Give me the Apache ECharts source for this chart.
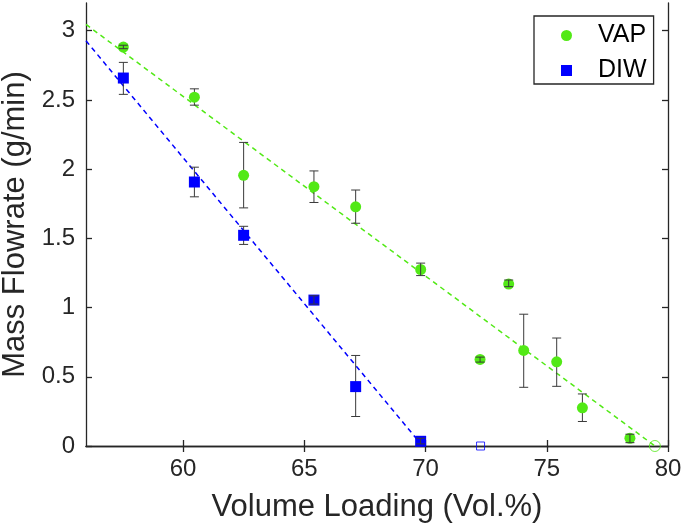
<!DOCTYPE html>
<html>
<head>
<meta charset="utf-8">
<script src="https://cdn.jsdelivr.net/npm/echarts@6/dist/echarts.min.js"></script>
<style>
html,body{margin:0;padding:0;background:#fff;}
#chart{width:685px;height:526px;}
</style>
</head>
<body>
<div id="chart"></div>
<script>
// ---- data ----
const vapX = [57.54, 60.47, 62.5, 65.4, 67.12, 69.8, 72.25, 73.43, 74.05, 75.41, 76.47, 78.43];
const vapY = [2.882, 2.52, 1.955, 1.873, 1.728, 1.275, 0.625, 1.170, 0.69, 0.608, 0.276, 0.056];
const vapUpper = [2.895, 2.58, 2.193, 1.987, 1.849, 1.321, 0.642, 1.199, 0.952, 0.78, 0.376, 0.085];
const vapLower = [2.870, 2.462, 1.72, 1.759, 1.609, 1.231, 0.606, 1.151, 0.424, 0.431, 0.177, 0.024];

const diwX = [57.54, 60.47, 62.5, 65.4, 67.12, 69.8];
const diwY = [2.658, 1.907, 1.522, 1.054, 0.429, 0.034];
const diwUpper = [2.771, 2.014, 1.587, 1.085, 0.654, 0.056];
const diwLower = [2.540, 1.80, 1.456, 1.025, 0.213, 0.015];

const vapZeroX = [79.46], vapZeroY = [0];
const diwZeroX = [72.27], diwZeroY = [0];

const vapFitX = [56, 79.46], vapFitY = [3.045, 0];
const diwFitX = [56, 69.88], diwFitY = [2.927, 0];

const xTicks = [60, 65, 70, 75, 80];
const yTicks = [0, 0.5, 1, 1.5, 2, 2.5, 3];

const xName = 'Volume Loading (Vol.%)';
const yName = 'Mass Flowrate (g/min)';

// ---- helpers ----
const zip = (a, b) => a.map((v, i) => [v, b[i]]);
const GREEN = '#52e916';
const BLUE = '#0000ff';
const AXIS = '#262626';
const FONT = '"Liberation Sans", Arial, Helvetica, sans-serif';

function errData(xs, lo, hi) { return xs.map((x, i) => [x, lo[i], hi[i]]); }

function makeErrRender(layer) {
  return function (params, api) {
    const x = api.value(0);
    const p1 = api.coord([x, api.value(1)]);
    const p2 = api.coord([x, api.value(2)]);
    const half = Math.abs(p1[1] - p2[1]) / 2;
    const small = half < 8;
    if ((layer === 'above') !== small) return null;
    const w = 4.5;
    const style = { stroke: '#3a3a3a', lineWidth: 1 };
    return {
      type: 'group',
      children: [
        { type: 'line', shape: { x1: p1[0], y1: p1[1], x2: p2[0], y2: p2[1] }, style },
        { type: 'line', shape: { x1: p1[0] - w, y1: p1[1], x2: p1[0] + w, y2: p1[1] }, style },
        { type: 'line', shape: { x1: p2[0] - w, y1: p2[1], x2: p2[0] + w, y2: p2[1] }, style }
      ]
    };
  };
}

const axisCommonX = {
  type: 'value', min: 56, max: 80,
  splitLine: { show: false },
  axisLine: { show: true, lineStyle: { color: AXIS, width: 1.3 } },
  axisTick: { show: true, inside: true, length: 6, customValues: xTicks, lineStyle: { color: AXIS, width: 1.3 } }
};
const axisCommonY = {
  type: 'value', min: 0, max: 3.2,
  splitLine: { show: false },
  axisLine: { show: true, lineStyle: { color: AXIS, width: 1.3 } },
  axisTick: { show: true, inside: true, length: 6, customValues: yTicks, lineStyle: { color: AXIS, width: 1.3 } }
};

const chart = echarts.init(document.getElementById('chart'), null, { renderer: 'canvas' });
chart.setOption({
  animation: false,
  backgroundColor: '#fff',
  textStyle: { fontFamily: FONT },
  grid: { left: 86, right: 17, top: 3, bottom: 80, containLabel: false, outerBoundsMode: 'none' },
  legend: {
    data: [{ name: 'VAP', icon: 'circle' }, { name: 'DIW', icon: 'rect' }],
    orient: 'vertical',
    left: 534, top: 16,
    itemWidth: 11, itemHeight: 11,
    itemGap: 10,
    padding: [7, 7, 1, 27],
    borderColor: '#262626', borderWidth: 1.3,
    backgroundColor: '#fff',
    textStyle: { fontFamily: FONT, fontSize: 25, color: '#000', padding: [0, 0, 0, 21] }
  },
  xAxis: [
    Object.assign({}, axisCommonX, {
      position: 'bottom',
      name: xName, nameLocation: 'middle', nameGap: 46,
      nameTextStyle: { fontFamily: FONT, fontSize: 31, color: AXIS },
      axisLabel: { show: true, customValues: xTicks, margin: 11, fontFamily: FONT, fontSize: 24, color: AXIS }
    }),
    Object.assign({}, axisCommonX, { position: 'top', axisLabel: { show: false } })
  ],
  yAxis: [
    Object.assign({}, axisCommonY, {
      position: 'left',
      name: yName, nameLocation: 'middle', nameGap: 55,
      nameTextStyle: { fontFamily: FONT, fontSize: 31, color: AXIS },
      axisLabel: { show: true, customValues: yTicks, margin: 11, fontFamily: FONT, fontSize: 24, color: AXIS }
    }),
    Object.assign({}, axisCommonY, { position: 'right', axisLabel: { show: false } })
  ],
  series: [
    { name: 'VAP fit', type: 'line', data: zip(vapFitX, vapFitY), symbol: 'none', z: 1,
      lineStyle: { color: GREEN, width: 1.5, type: [5, 4] }, silent: true },
    { name: 'DIW fit', type: 'line', data: zip(diwFitX, diwFitY), symbol: 'none', z: 1,
      lineStyle: { color: BLUE, width: 1.5, type: [5, 4] }, silent: true },
    { name: 'errBelowVAP', type: 'custom', renderItem: makeErrRender('below'), data: errData(vapX, vapLower, vapUpper), z: 2 },
    { name: 'errBelowDIW', type: 'custom', renderItem: makeErrRender('below'), data: errData(diwX, diwLower, diwUpper), z: 2 },
    { name: 'VAP', type: 'scatter', data: zip(vapX, vapY), symbol: 'circle', symbolSize: 11, z: 3,
      itemStyle: { color: GREEN, opacity: 1 } },
    { name: 'DIW', type: 'scatter', data: zip(diwX, diwY), symbol: 'rect', symbolSize: 11, z: 3,
      itemStyle: { color: BLUE, opacity: 1 } },
    { name: 'VAP zero', type: 'scatter', data: zip(vapZeroX, vapZeroY), symbol: 'circle', symbolSize: 11, z: 3,
      itemStyle: { color: 'rgba(0,0,0,0)', borderColor: GREEN, borderWidth: 1 } },
    { name: 'DIW zero', type: 'scatter', data: zip(diwZeroX, diwZeroY), symbol: 'rect', symbolSize: 8, z: 3,
      itemStyle: { color: 'rgba(0,0,0,0)', borderColor: BLUE, borderWidth: 1 } },
    { name: 'errAboveVAP', type: 'custom', renderItem: makeErrRender('above'), data: errData(vapX, vapLower, vapUpper), z: 4 },
    { name: 'errAboveDIW', type: 'custom', renderItem: makeErrRender('above'), data: errData(diwX, diwLower, diwUpper), z: 4 }
  ]
});
</script>
</body>
</html>
